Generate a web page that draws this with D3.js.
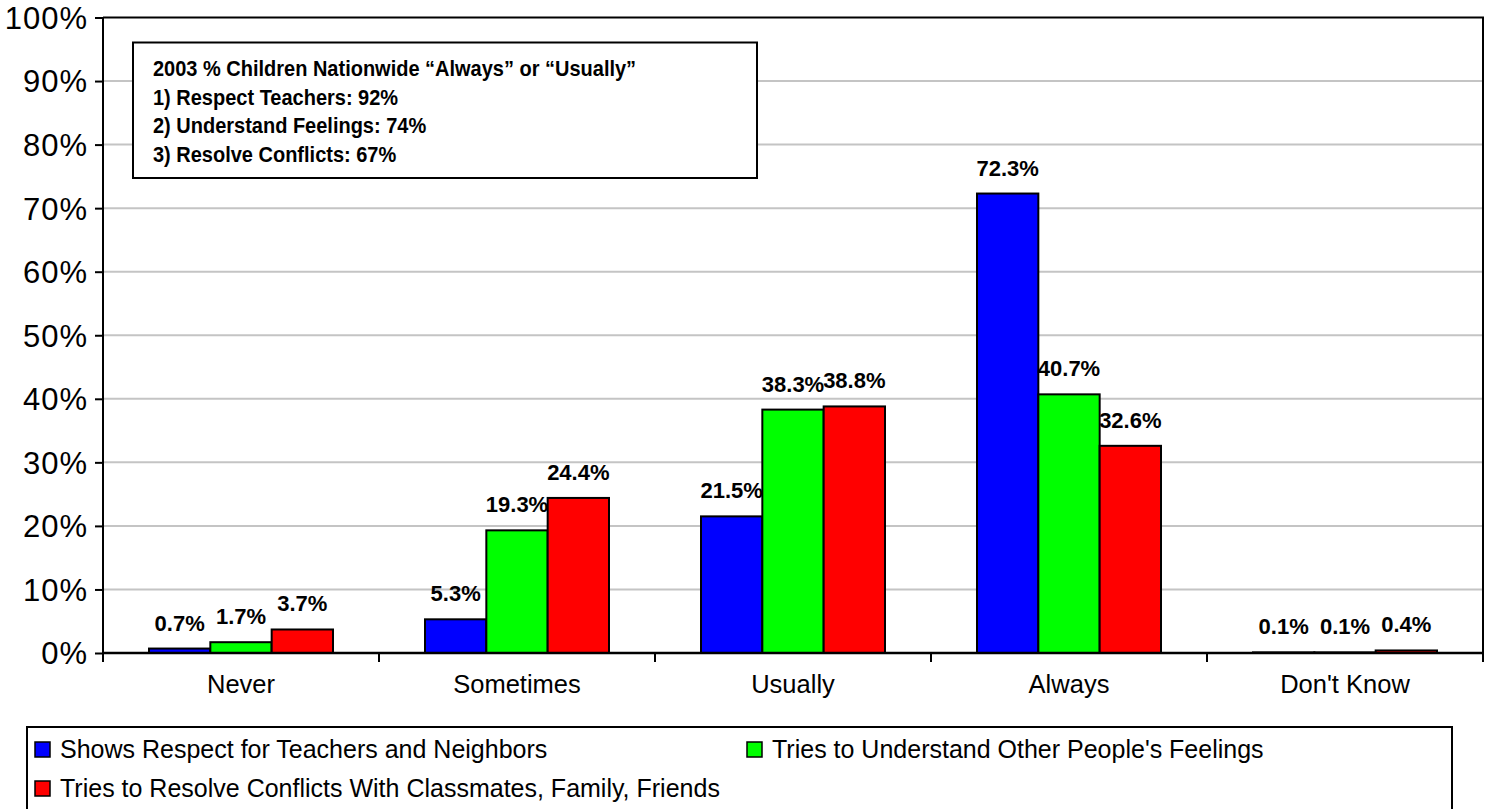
<!DOCTYPE html>
<html>
<head>
<meta charset="utf-8">
<script src="https://cdn.jsdelivr.net/npm/d3@7"></script>
<style>
  html, body { margin: 0; padding: 0; background: #fff; }
  svg { display: block; font-family: "Liberation Sans", Arial, sans-serif; }
</style>
</head>
<body>
<svg id="chart" width="1485" height="809"></svg>
<script>
const categories = ["Never", "Sometimes", "Usually", "Always", "Don't Know"];
const seriesNames = [
  "Shows Respect for Teachers and Neighbors",
  "Tries to Understand Other People's Feelings",
  "Tries to Resolve Conflicts With Classmates, Family, Friends"
];
const respectValues = [0.7, 5.3, 21.5, 72.3, 0.1];
const feelingsValues = [1.7, 19.3, 38.3, 40.7, 0.1];
const conflictsValues = [3.7, 24.4, 38.8, 32.6, 0.4];
const seriesColors = ["#0000ff", "#00ff00", "#ff0000"];
const yTickValues = [0, 10, 20, 30, 40, 50, 60, 70, 80, 90, 100];
const noteLines = [
  "2003 % Children Nationwide \u201cAlways\u201d or \u201cUsually\u201d",
  "1) Respect Teachers: 92%",
  "2) Understand Feelings: 74%",
  "3) Resolve Conflicts: 67%"
];

const seriesValues = [respectValues, feelingsValues, conflictsValues];
const data = categories.map((c, i) => ({
  category: c,
  values: seriesNames.map((s, j) => ({ series: s, idx: j, value: seriesValues[j][i] }))
}));

const svg = d3.select("#chart");
const plot = { left: 103, right: 1483, top: 17.5, bottom: 653 };

const x0 = d3.scaleBand().domain(categories).range([plot.left, plot.right]).padding(0);
const x1 = d3.scaleBand().domain(seriesNames).range([0, x0.bandwidth()])
  .paddingInner(0).paddingOuter(0.75);
const y = d3.scaleLinear().domain([0, 100]).range([plot.bottom, plot.top]);
const color = d3.scaleOrdinal().domain(seriesNames).range(seriesColors);

// gridlines
svg.append("g").selectAll("line").data(yTickValues.filter(v => v > 0 && v < 100)).join("line")
  .attr("x1", plot.left).attr("x2", plot.right)
  .attr("y1", d => y(d)).attr("y2", d => y(d))
  .attr("stroke", "#c4c4c4").attr("stroke-width", 2);

// plot border (top & right)
svg.append("path")
  .attr("d", `M${plot.left},${plot.top}H${plot.right}V${plot.bottom}`)
  .attr("fill", "none").attr("stroke", "#000").attr("stroke-width", 2);

// annotation box
const note = svg.append("g");
note.append("rect").attr("x", 133).attr("y", 42.5).attr("width", 624).attr("height", 135.5)
  .attr("fill", "#fff").attr("stroke", "#000").attr("stroke-width", 2);
note.selectAll("text").data(noteLines).join("text")
  .attr("transform", (d, i) => `translate(153,${76 + i * 28.7}) scale(0.93,1)`)
  .attr("font-size", 21.5).attr("font-weight", "bold").attr("fill", "#000")
  .text(d => d);

// bars
const groups = svg.append("g").selectAll("g").data(data).join("g")
  .attr("transform", d => `translate(${x0(d.category)},0)`);
groups.selectAll("rect").data(d => d.values).join("rect")
  .attr("x", d => x1(d.series))
  .attr("y", d => y(d.value))
  .attr("width", x1.bandwidth())
  .attr("height", d => y(0) - y(d.value))
  .attr("fill", d => color(d.series))
  .attr("stroke", "#000").attr("stroke-width", 2);

// data labels
groups.selectAll("text").data(d => d.values).join("text")
  .attr("x", d => x1(d.series) + x1.bandwidth() / 2)
  .attr("y", d => y(d.value) - 18)
  .attr("text-anchor", "middle")
  .attr("font-size", 22).attr("font-weight", "bold").attr("fill", "#000")
  .text(d => d.value.toFixed(1) + "%");

// y axis
const yAxis = svg.append("g").attr("transform", `translate(${plot.left},0)`)
  .call(d3.axisLeft(y).tickValues(yTickValues).tickSize(8).tickPadding(7)
    .tickFormat(d => d + "%"));
yAxis.select(".domain").attr("stroke", "#000").attr("stroke-width", 2)
  .attr("d", `M0,${plot.top}V${plot.bottom + 9}`);
yAxis.selectAll(".tick line").attr("stroke", "#000").attr("stroke-width", 2);
yAxis.selectAll(".tick text").attr("font-size", 31).attr("font-family", "Liberation Sans, Arial, sans-serif")
  .attr("fill", "#000").attr("letter-spacing", 1).attr("dy", "0.35em");

// x axis
const xg = svg.append("g");
xg.append("line").attr("x1", plot.left).attr("x2", plot.right)
  .attr("y1", y(0)).attr("y2", y(0)).attr("stroke", "#000").attr("stroke-width", 2.5);
const boundaries = categories.map(c => x0(c)).concat([x0(categories[categories.length - 1]) + x0.bandwidth()]);
xg.selectAll("line.tick").data(boundaries).join("line").attr("class", "tick")
  .attr("x1", d => d).attr("x2", d => d)
  .attr("y1", y(0)).attr("y2", y(0) + 9)
  .attr("stroke", "#000").attr("stroke-width", 2);
xg.selectAll("text").data(categories).join("text")
  .attr("x", d => x0(d) + x0.bandwidth() / 2).attr("y", 693)
  .attr("text-anchor", "middle").attr("font-size", 25.5).attr("fill", "#000")
  .text(d => d);

// legend
const legend = svg.append("g");
legend.append("rect").attr("x", 27).attr("y", 727).attr("width", 1425).attr("height", 90)
  .attr("fill", "#fff").attr("stroke", "#000").attr("stroke-width", 2);
const legendPos = [
  { x: 35, y: 742 },
  { x: 747, y: 742 },
  { x: 35, y: 781 }
];
const li = legend.selectAll("g").data(seriesNames).join("g")
  .attr("transform", (d, i) => `translate(${legendPos[i].x},${legendPos[i].y})`);
li.append("rect").attr("width", 15).attr("height", 15)
  .attr("fill", d => color(d)).attr("stroke", "#000").attr("stroke-width", 1.5);
li.append("text").attr("x", 25).attr("y", 16)
  .attr("font-size", 25).attr("fill", "#000").text(d => d);
</script>
</body>
</html>
